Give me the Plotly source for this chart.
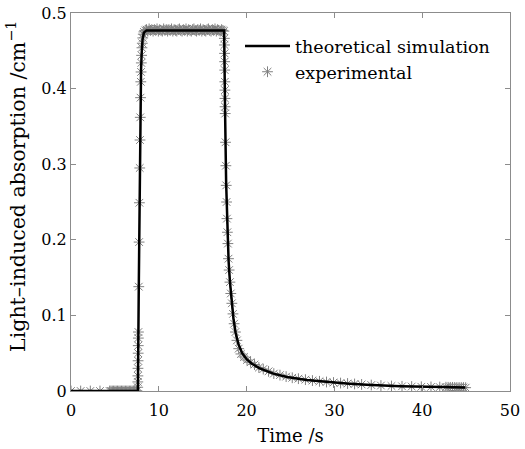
import plotly.graph_objects as go

# ---------------- data ----------------
# theoretical simulation curve
sim_t = [0, 7.62, 7.72, 7.79, 7.86, 7.92, 7.98, 8.05, 8.15, 8.3, 8.6,
         17.44, 17.5, 17.56, 17.67, 17.8, 17.95, 18.1, 18.3, 18.5, 18.75,
         19.07, 19.5, 20.0, 20.6, 21.5, 23.05, 24.6, 26.84, 29.1, 31.4,
         33.66, 37.5, 42.4, 44.9]
sim_y = [0, 0, 0.138, 0.249, 0.332, 0.388, 0.425, 0.447, 0.465, 0.474, 0.477,
         0.477, 0.44, 0.36, 0.275, 0.21, 0.172, 0.145, 0.118, 0.096, 0.077,
         0.062, 0.050, 0.042, 0.036, 0.030, 0.023, 0.0185, 0.0145, 0.0118, 0.0099,
         0.0083, 0.0064, 0.0052, 0.0045]

# experimental points: baseline before illumination
exp_t_base = [0, 1.1, 2.2, 3.3, 4.4, 4.55, 4.7, 4.85, 5.0, 5.15, 5.3, 5.45, 5.6,
              5.75, 5.9, 6.05, 6.2, 6.35, 6.5, 6.65, 6.8, 6.95, 7.1, 7.25, 7.4, 7.52]
exp_y_base = [0, 0, 0, 0, 0, 0, 0, 0, 0, 0, 0, 0, 0,
              0, 0, 0, 0, 0, 0, 0, 0, 0, 0, 0, 0, 0]

# experimental points: rise
exp_t_rise = [7.6, 7.61, 7.62, 7.63, 7.64, 7.65, 7.66, 7.67, 7.68, 7.72, 7.76,
              7.79, 7.83, 7.86, 7.89, 7.92, 7.95, 7.98, 8.01, 8.04, 8.08, 8.12,
              8.17, 8.23]
exp_y_rise = [0.005, 0.012, 0.02, 0.03, 0.04, 0.05, 0.06, 0.07, 0.078, 0.138, 0.197,
              0.249, 0.295, 0.332, 0.362, 0.388, 0.409, 0.422, 0.434, 0.444, 0.454, 0.46,
              0.467, 0.472]

# experimental points: plateau
exp_t_plat = [8.3, 8.45, 8.6, 8.75, 8.9, 9.05, 9.2, 9.35, 9.5, 9.65, 9.8, 9.95,
              10.1, 10.25, 10.4, 10.55, 10.7, 10.85, 11.0, 11.15, 11.3, 11.45, 11.6,
              11.75, 11.9, 12.05, 12.2, 12.35, 12.5, 12.65, 12.8, 12.95, 13.1, 13.25,
              13.4, 13.55, 13.7, 13.85, 14.0, 14.15, 14.3, 14.45, 14.6, 14.75, 14.9,
              15.05, 15.2, 15.35, 15.5, 15.65, 15.8, 15.95, 16.1, 16.25, 16.4, 16.55,
              16.7, 16.85, 17.0, 17.15, 17.3, 17.42]
exp_y_plat = [0.475, 0.477, 0.478, 0.476, 0.479, 0.477, 0.478, 0.476, 0.478, 0.477, 0.479, 0.476,
              0.478, 0.477, 0.476, 0.479, 0.477, 0.478, 0.476, 0.478, 0.477, 0.479, 0.476,
              0.478, 0.477, 0.476, 0.478, 0.479, 0.477, 0.476, 0.478, 0.477, 0.479, 0.476,
              0.478, 0.477, 0.476, 0.478, 0.479, 0.477, 0.476, 0.478, 0.477, 0.479, 0.476,
              0.478, 0.477, 0.476, 0.478, 0.479, 0.477, 0.476, 0.478, 0.477, 0.479, 0.476,
              0.478, 0.477, 0.476, 0.478, 0.477, 0.476]

# experimental points: decay
exp_t_fall = [17.47, 17.48, 17.49, 17.5, 17.51, 17.52, 17.53, 17.54, 17.55, 17.56,
              17.6, 17.64, 17.68, 17.72, 17.76, 17.81, 17.87, 17.94, 18.01, 18.1,
              18.2, 18.32, 18.45, 18.58, 18.73, 18.9, 19.1, 19.35, 19.7, 20.05,
              20.45, 20.9, 21.4, 21.9, 22.5, 23.1, 23.8, 24.5, 25.2, 25.9, 26.7,
              27.5, 28.3, 29.1, 29.9, 30.7, 31.5, 32.3, 33.1, 34.2, 35.3, 36.5,
              37.7, 38.8, 39.9, 41.0, 42.0, 42.7, 42.95, 43.2, 43.45, 43.7, 43.95,
              44.2, 44.45, 44.7, 44.95]
exp_y_fall = [0.4665, 0.4577, 0.4466, 0.4356, 0.4245, 0.409, 0.398, 0.387, 0.376, 0.367,
              0.329, 0.298, 0.272, 0.250, 0.228, 0.210, 0.195, 0.175, 0.160, 0.144,
              0.129, 0.116, 0.102, 0.089, 0.078, 0.067, 0.056, 0.049, 0.045, 0.041,
              0.038, 0.035, 0.031, 0.029, 0.026, 0.023, 0.021, 0.019, 0.0175, 0.0163, 0.015,
              0.0138, 0.0128, 0.0119, 0.0112, 0.0105, 0.0099, 0.0093, 0.0087, 0.0079, 0.0072, 0.0066,
              0.0062, 0.0059, 0.0056, 0.0054, 0.0052, 0.005, 0.0049, 0.0048, 0.0048, 0.0047, 0.0046,
              0.0046, 0.0045, 0.0045, 0.0044]

x_ticks = [0, 10, 20, 30, 40, 50]
y_ticks = [0, 0.1, 0.2, 0.3, 0.4, 0.5]
y_tick_text = ["0", "0.1", "0.2", "0.3", "0.4", "0.5"]

exp_t = exp_t_base + exp_t_rise + exp_t_plat + exp_t_fall
exp_y = exp_y_base + exp_y_rise + exp_y_plat + exp_y_fall

FONT = "DejaVu Serif"

fig = go.Figure()
fig.add_trace(go.Scatter(
    x=exp_t, y=exp_y, mode="markers", name="experimental", legendrank=2,
    marker=dict(symbol="asterisk-open", size=9, color="#808080",
                line=dict(color="#808080", width=1)),
))
fig.add_trace(go.Scatter(
    x=sim_t, y=sim_y, mode="lines", name="theoretical simulation", legendrank=1,
    line=dict(color="black", width=2.5),
))

axis_common = dict(
    showline=True, linecolor="#8c8c8c", linewidth=1, mirror="ticks",
    ticks="inside", ticklen=5, tickcolor="#8c8c8c", showgrid=False, zeroline=False,
    automargin=False,
    tickfont=dict(family=FONT, size=16, color="black"),
)

fig.update_layout(
    width=525, height=449,
    margin=dict(l=71, r=15, t=13, b=58),
    paper_bgcolor="white", plot_bgcolor="white",
    font=dict(family=FONT, color="black"),
    showlegend=True,
    legend=dict(x=0.385, y=0.96, xanchor="left", yanchor="top",
                bgcolor="rgba(0,0,0,0)", font=dict(family=FONT, size=17.5),
                tracegroupgap=0, itemwidth=45),
    xaxis=dict(range=[0, 50], tickvals=x_ticks, ticklabelstandoff=5,
               title=dict(text="Time /s", font=dict(family=FONT, size=18), standoff=10),
               **axis_common),
    yaxis=dict(range=[0, 0.5], tickvals=y_ticks, ticktext=y_tick_text,
               **axis_common),
    annotations=[dict(
        text="Light–induced absorption /cm<sup>−1</sup>",
        xref="paper", yref="paper", x=-0.123, y=0.54,
        xanchor="center", yanchor="middle", textangle=-90, showarrow=False,
        font=dict(family=FONT, size=20.5, color="black"),
    )],
)

# remove the default page margin so the figure sits at the window's top-left corner
fig.write_html("out.html", config={"displayModeBar": False},
               post_script="document.body.style.margin='0px';")
